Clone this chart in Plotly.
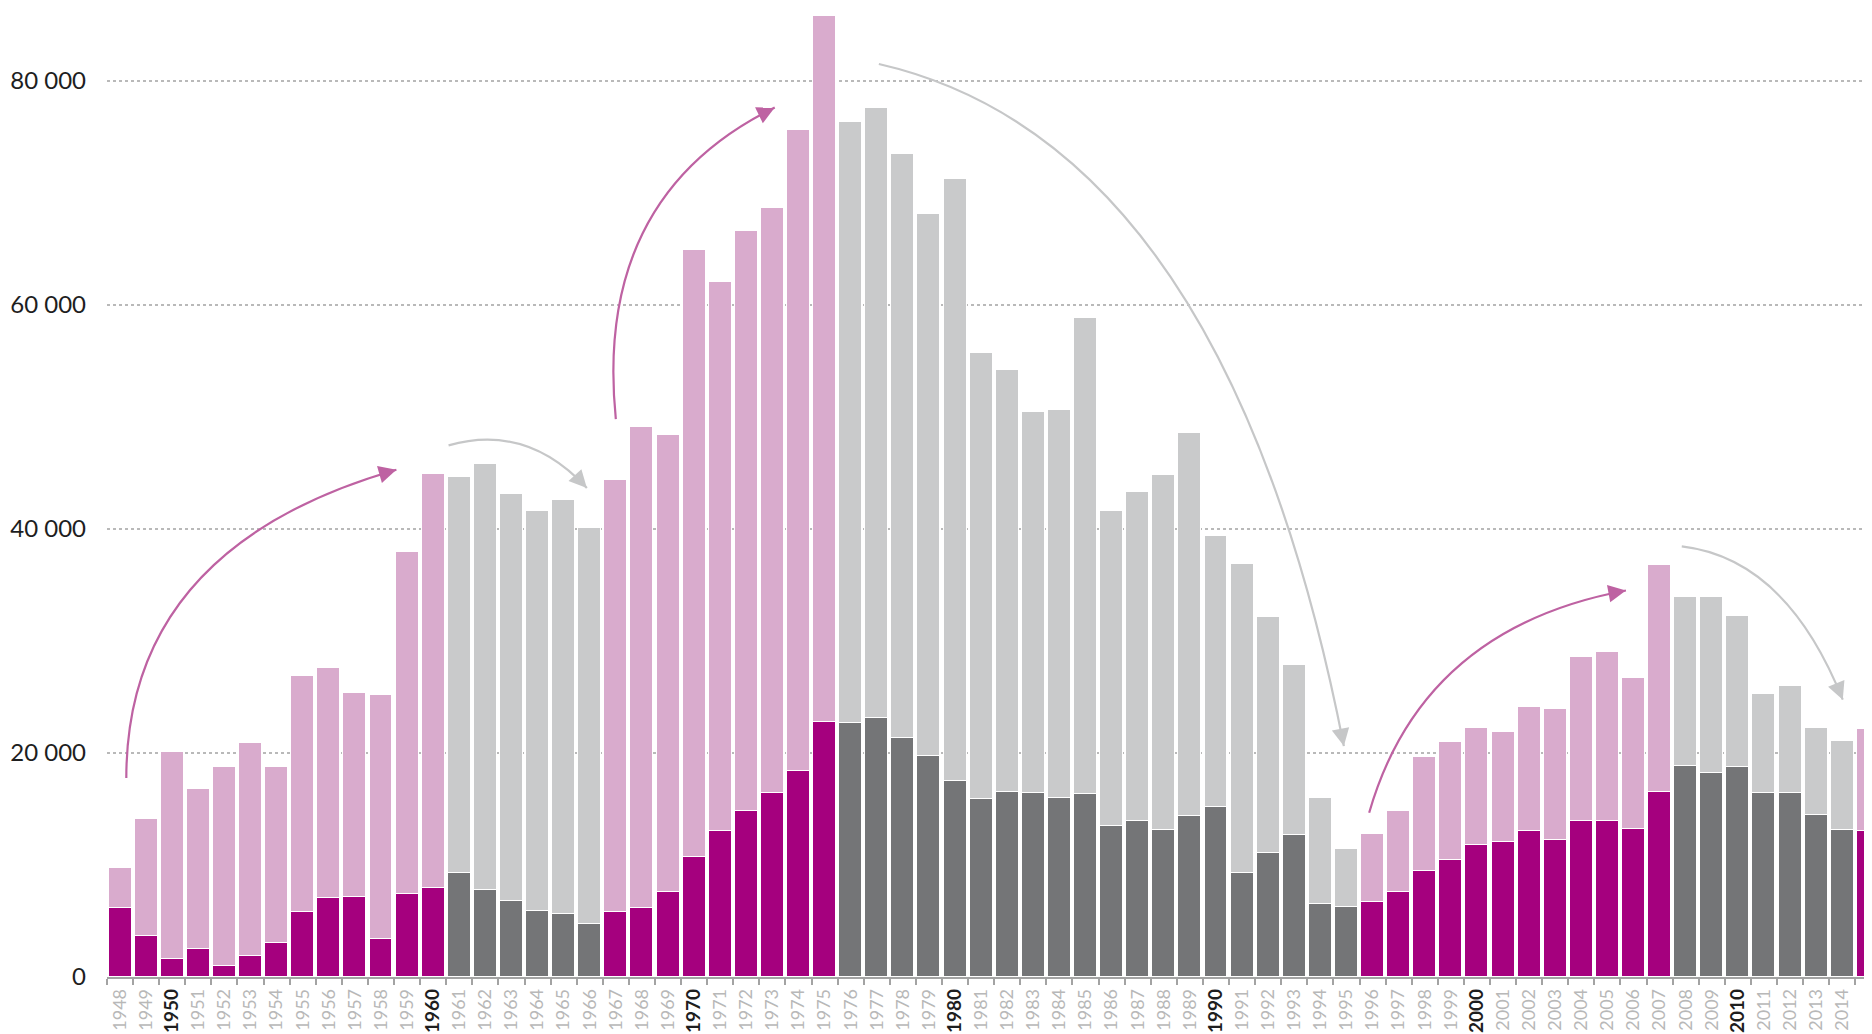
import plotly.graph_objects as go

# ---------------- data ----------------
years = list(range(1948, 2016))

totals = [9700, 14100, 20100, 16800, 18700, 20900, 18700, 26900, 27600, 25350,
          25200, 37900, 44900, 44600, 45800, 43100, 41600, 42600, 40100, 44400,
          49100, 48400, 64900, 62000, 66600, 68600, 75600, 85800, 76300, 77600,
          73500, 68100, 71200, 55700, 54200, 50400, 50600, 58850, 41600, 43300,
          44800, 48600, 39400, 36850, 32100, 27850, 16000, 11450, 12800, 14800,
          19600, 20950, 22250, 21850, 24100, 23950, 28550, 29050, 26650, 36800,
          33900, 33950, 32200, 25250, 26000, 22250, 21100, 22100]

lower = [6200, 3700, 1650, 2500, 950, 1900, 3000, 5800, 7050, 7100,
         3350, 7450, 7950, 9300, 7800, 6750, 5850, 5650, 4750, 5800,
         6200, 7600, 10700, 13000, 14800, 16400, 18400, 22800, 22700, 23100,
         21300, 19750, 17500, 15900, 16500, 16400, 15950, 16300, 13500, 13900,
         13100, 14350, 15200, 9250, 11100, 12700, 6500, 6250, 6700, 7600,
         9450, 10400, 11800, 12050, 13000, 12250, 13900, 13900, 13200, 16500,
         18850, 18250, 18750, 16450, 16450, 14500, 13100, 13000]

# rising (magenta) / falling (grey) periods
phase_spans = [(1948, 1960, "up"), (1961, 1966, "down"), (1967, 1975, "up"),
               (1976, 1995, "down"), (1996, 2007, "up"), (2008, 2014, "down"),
               (2015, 2015, "up")]

y_tick_vals = [0, 20000, 40000, 60000, 80000]
y_tick_text = ["0", "20 000", "40 000", "60 000", "80 000"]

# curved arrows: (start, control, end) in (year, value), kind
arrows = [
    ((1948.24, 17760), (1948.24, 38350), (1958.59, 45280), "up"),
    ((1960.59, 47450), (1963.59, 49450), (1965.89, 43640), "down"),
    ((1967.00, 49800), (1966.14, 69660), (1973.09, 77610), "up"),
    ((1977.08, 81490), (1990.39, 74400), (1994.90, 20610), "down"),
    ((1995.87, 14660), (1997.90, 31120), (2005.71, 34500), "up"),
    ((2007.85, 38430), (2011.86, 37340), (2014.02, 24750), "down"),
]

# ---------------- styling ----------------
DARK = {"up": "#A5007E", "down": "#747577"}
LIGHT = {"up": "#D9ABCD", "down": "#C9CACB"}
ARROW = {"up": "#BE62A2", "down": "#C6C7C8"}

# page has an 8px body margin: figure sized/offset to compensate
W, H = 1864, 1026
ML, MR, MT, MB = 99, 0, 0, 57
X_RANGE = [1947.5, 2015.14]
Y_RANGE = [0, 86490]

phase_of = {}
for a, b, p in phase_spans:
    for yv in range(a, b + 1):
        phase_of[yv] = p

upper = [t - l for t, l in zip(totals, lower)]
dark_colors = [DARK[phase_of[y]] for y in years]
light_colors = [LIGHT[phase_of[y]] for y in years]

fig = go.Figure()
fig.add_trace(go.Bar(x=years, y=lower, marker=dict(color=dark_colors,
                     line=dict(color="white", width=1.5)), width=0.88,
                     hoverinfo="skip"))
fig.add_trace(go.Bar(x=years, y=upper, marker=dict(color=light_colors,
                     line=dict(color="white", width=1.5)), width=0.88,
                     hoverinfo="skip"))

# tick labels
ticktext = []
for y in years:
    if y % 10 == 0 or y == 2015:
        ticktext.append('<span style="color:#1e1e1e;font-size:19px"><b>%d</b></span>' % y)
    else:
        ticktext.append('<span style="color:#b8b8b8">%d</span>' % y)

# arrows
px_per_x = (W - ML - MR) / (X_RANGE[1] - X_RANGE[0])
px_per_y = (H - MT - MB) / (Y_RANGE[1] - Y_RANGE[0])
shapes = []
annotations = []
for p0, c, p2, kind in arrows:
    path = "M %f,%f Q %f,%f %f,%f" % (p0[0], p0[1], c[0], c[1], p2[0], p2[1])
    shapes.append(dict(type="path", xref="x", yref="y", path=path,
                       line=dict(color=ARROW[kind], width=2.2), layer="above"))
    dx = (p2[0] - c[0]) * px_per_x
    dy = -(p2[1] - c[1]) * px_per_y
    n = (dx * dx + dy * dy) ** 0.5
    L = 14
    annotations.append(dict(x=p2[0], y=p2[1], xref="x", yref="y", text="",
                            showarrow=True, arrowhead=2, arrowsize=1.6,
                            arrowwidth=2.2, arrowcolor=ARROW[kind],
                            ax=-dx / n * L, ay=-dy / n * L, standoff=0))

fig.update_layout(
    width=W, height=H,
    margin=dict(l=ML, r=MR, t=MT, b=MB),
    barmode="stack", bargap=0,
    showlegend=False,
    plot_bgcolor="white", paper_bgcolor="white",
    font=dict(family="Lato, 'Open Sans', sans-serif", color="#1e1e1e"),
    shapes=shapes, annotations=annotations,
    xaxis=dict(range=X_RANGE, tickmode="array", tickvals=years,
               ticktext=ticktext, tickangle=-90, ticks="",
               tickfont=dict(size=18, color="#b8b8b8"),
               ticklabelstandoff=3,
               showgrid=False, zeroline=False, showline=True,
               linecolor="#a3a3a3", linewidth=1.5,
               minor=dict(tickmode="array",
                          tickvals=[y - 0.5 for y in years] + [years[-1] + 0.5],
                          ticks="outside", ticklen=6, tickwidth=1.5,
                          tickcolor="#a3a3a3", showgrid=False),
               automargin=False, fixedrange=True),
    yaxis=dict(range=Y_RANGE, tickmode="array", tickvals=y_tick_vals,
               ticktext=y_tick_text, ticks="",
               tickfont=dict(size=24, color="#1e1e1e"),
               ticklabelstandoff=20,
               showgrid=True, gridcolor="#b9b9b9", griddash="dot",
               gridwidth=1.5, zeroline=False, showline=False,
               automargin=False, fixedrange=True),
)

fig.write_html("out.html")
